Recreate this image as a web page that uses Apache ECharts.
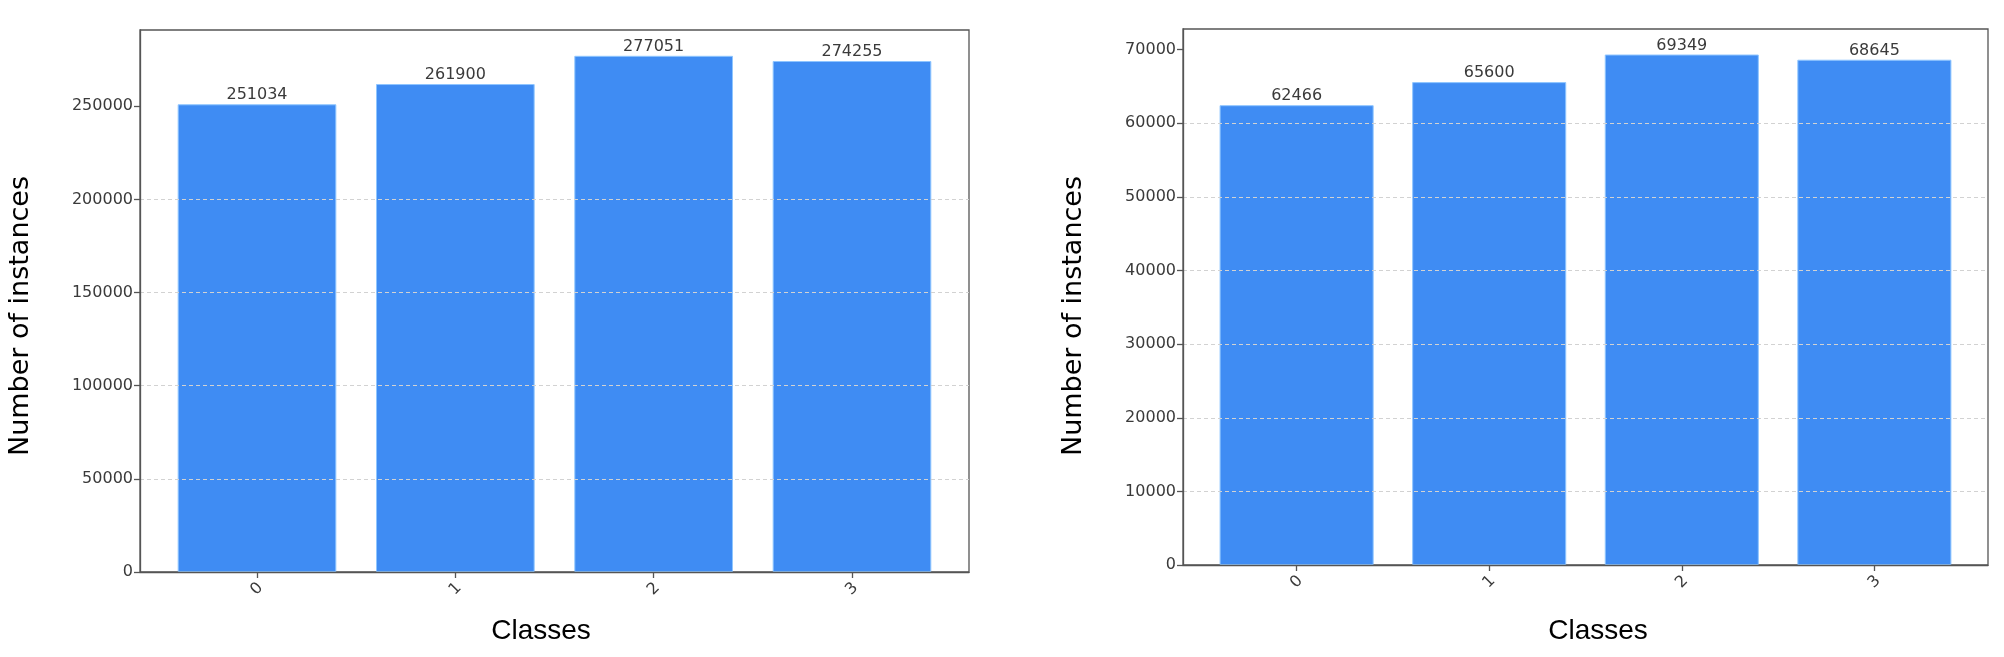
<!DOCTYPE html>
<html><head><meta charset="utf-8">
<script src="https://cdn.jsdelivr.net/npm/echarts@6/dist/echarts.min.js"></script>
<style>html,body{margin:0;padding:0;background:#fff}#c{width:2004px;height:657px}</style>
</head><body><div id="c"></div>
<script>
const categories = ['0', '1', '2', '3'];
const leftValues = [251034, 261900, 277051, 274255];
const rightValues = [62466, 65600, 69349, 68645];
const leftYTicks = [0, 50000, 100000, 150000, 200000, 250000];
const rightYTicks = [0, 10000, 20000, 30000, 40000, 50000, 60000, 70000];
const xTitle = 'Classes';
const yTitle = 'Number of instances';

const BAR = '#3f8cf3';
const AX = '#555';
const TXT = '#3a3a3a';
const tickFont = 'DejaVu Sans';
const xPositions = categories.map((c, i) => i);

function axesFor(idx, values, yTicks) {
  const ymax = Math.max(...values) * 1.05;
  const xAxis = {
    type: 'value', gridIndex: idx, min: -0.59, max: 3.59, z: 10,
    axisLine: { show: true, onZero: false, lineStyle: { color: AX, width: 1.3 } },
    axisTick: { show: true, customValues: xPositions, length: 6, lineStyle: { color: AX, width: 1.3 } },
    axisLabel: { customValues: xPositions, formatter: v => categories[Math.round(v)], rotate: 45,
      align: 'center', verticalAlign: 'middle',
      fontFamily: tickFont, fontSize: 16, color: TXT, margin: 17 },
    splitLine: { show: false }
  };
  const yAxis = {
    type: 'value', gridIndex: idx, min: 0, max: ymax, z: 10,
    axisLine: { show: true, onZero: false, lineStyle: { color: AX, width: 1.3 } },
    axisTick: { show: true, customValues: yTicks, length: 6, lineStyle: { color: AX, width: 1.3 } },
    axisLabel: { customValues: yTicks, formatter: v => String(v),
      fontFamily: tickFont, fontSize: 16, color: TXT, margin: 7 },
    splitLine: { show: true, showMaxLine: false, showMinLine: false,
      lineStyle: { color: '#d2d2d2', type: [4, 3], width: 1 } }
  };
  const series = {
    type: 'bar', xAxisIndex: idx, yAxisIndex: idx,
    data: values.map((v, i) => [xPositions[i], v]),
    barWidth: '80%',
    itemStyle: { color: BAR, borderColor: '#8fc6ff', borderWidth: 1 },
    label: { show: true, position: 'top', distance: 1, formatter: p => String(p.value[1]),
      fontFamily: tickFont, fontSize: 16, color: TXT }
  };
  return { xAxis, yAxis, series };
}

const L = axesFor(0, leftValues, leftYTicks);
const R = axesFor(1, rightValues, rightYTicks);

const titleFontY = '27px "DejaVu Sans"';
const titleFontX = '28px "Liberation Sans"';

const option = {
  animation: false,
  backgroundColor: '#fff',
  grid: [
    { left: 140, top: 30, width: 829, height: 542, show: true, borderColor: AX, borderWidth: 1.3, backgroundColor: 'transparent' },
    { left: 1183, top: 29, width: 805, height: 536, show: true, borderColor: AX, borderWidth: 1.3, backgroundColor: 'transparent' }
  ],
  xAxis: [L.xAxis, R.xAxis],
  yAxis: [L.yAxis, R.yAxis],
  series: [L.series, R.series],
  graphic: [
    { type: 'text', x: 21, y: 316, rotation: Math.PI / 2, style: { text: yTitle, font: titleFontY, fill: '#000', textAlign: 'center', textVerticalAlign: 'middle' } },
    { type: 'text', x: 1074, y: 316, rotation: Math.PI / 2, style: { text: yTitle, font: titleFontY, fill: '#000', textAlign: 'center', textVerticalAlign: 'middle' } },
    { type: 'text', x: 541, y: 631, style: { text: xTitle, font: titleFontX, fill: '#000', textAlign: 'center', textVerticalAlign: 'middle' } },
    { type: 'text', x: 1598, y: 631, style: { text: xTitle, font: titleFontX, fill: '#000', textAlign: 'center', textVerticalAlign: 'middle' } }
  ]
};

const chart = echarts.init(document.getElementById('c'), null, { renderer: 'canvas' });
chart.setOption(option);
</script>
</body></html>
